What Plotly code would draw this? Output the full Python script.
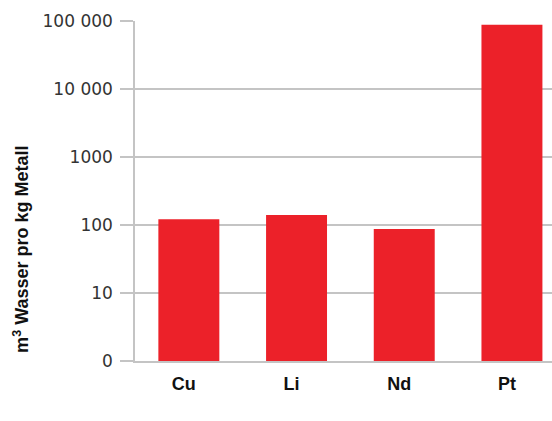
import plotly.graph_objects as go

categories = ["Cu", "Li", "Nd", "Pt"]
values = [122, 140, 87, 88000]
tick_vals = [1, 10, 100, 1000, 10000, 100000]
tick_text = ["0", "10", "100", "1000", "10 000", "100 000"]
y_title = "m<sup>3</sup> Wasser pro kg Metall"

grid_color = "#c4c4c4"

fig = go.Figure(
    go.Bar(
        x=categories,
        y=values,
        marker=dict(color="#ec2129", line=dict(width=0)),
        width=0.566,
    )
)

fig.update_layout(
    width=552,
    height=421,
    margin=dict(l=135, r=0, t=21, b=60),
    plot_bgcolor="white",
    paper_bgcolor="white",
    showlegend=False,
    font=dict(family="DejaVu Sans", size=16, color="#333333"),
    annotations=[
        dict(
            text=y_title,
            xref="paper",
            yref="paper",
            x=-0.274,
            y=0.329,
            xanchor="center",
            yanchor="middle",
            textangle=-90,
            showarrow=False,
            font=dict(family="Liberation Sans", size=18, color="#111111", weight="bold"),
        )
    ],
)

fig.update_xaxes(
    range=[-0.5, 3.372],
    showgrid=False,
    showline=True,
    linecolor=grid_color,
    linewidth=1.5,
    ticks="",
    tickfont=dict(family="Liberation Sans", size=18, color="#111111", weight="bold"),
    ticklabelstandoff=6,
    ticklabelshift=-5,
)

fig.update_yaxes(
    type="log",
    range=[0, 5],
    tickvals=tick_vals,
    ticktext=tick_text,
    showgrid=True,
    gridcolor=grid_color,
    gridwidth=1.5,
    showline=True,
    linecolor=grid_color,
    linewidth=1.5,
    ticks="outside",
    ticklen=13,
    tickcolor=grid_color,
    tickwidth=1.5,
    tickfont=dict(family="DejaVu Sans", size=17, color="#333333"),
    ticklabelstandoff=4,
)

fig.write_html(
    "out.html",
    config={"displayModeBar": False},
    post_script="document.body.style.margin='0';document.body.style.padding='0';",
)
